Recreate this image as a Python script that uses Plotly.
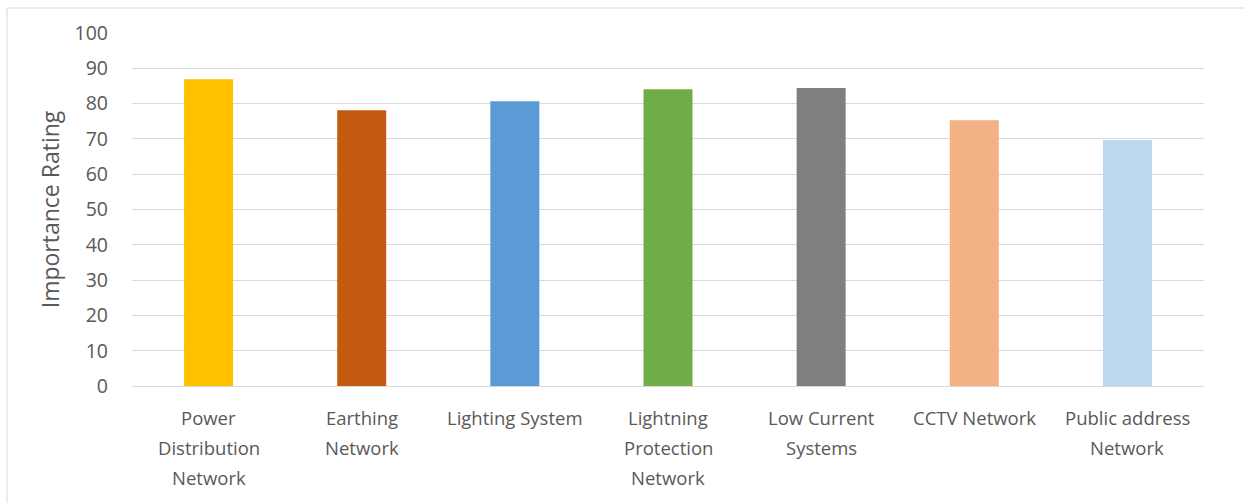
import plotly.graph_objects as go

categories = [
    "Power Distribution Network",
    "Earthing Network",
    "Lighting System",
    "Lightning Protection Network",
    "Low Current Systems",
    "CCTV Network",
    "Public address Network",
]
# wrapped lines for each axis label
label_lines = [
    ["Power", "Distribution", "Network"],
    ["Earthing", "Network"],
    ["Lighting System"],
    ["Lightning", "Protection", "Network"],
    ["Low Current", "Systems"],
    ["CCTV Network"],
    ["Public address", "Network"],
]
ratings = [86.9, 78.1, 80.7, 84.1, 84.4, 75.3, 69.7]
bar_colors = ["#FFC000", "#C55A11", "#5B9BD5", "#70AD47", "#7F7F7F", "#F4B183", "#BDD7EE"]

W, H = 1244, 503
ML, MR, MT, MB = 132, 40, 33, 117
FONT = "Open Sans"
TXT = "#595959"

fig = go.Figure(
    go.Bar(
        x=categories,
        y=ratings,
        marker=dict(color=bar_colors, line=dict(width=0)),
        width=0.32,
    )
)

# category labels, one annotation per line for Office-style spacing
for cat, lines in zip(categories, label_lines):
    for i, line in enumerate(lines):
        fig.add_annotation(
            x=cat, y=0, xref="x", yref="y",
            text=line, showarrow=False,
            yanchor="middle", yshift=-31 - 30 * i,
            font=dict(family=FONT, size=18.5, color=TXT),
        )

# light frame around the chart
pw, ph = W - ML - MR, H - MT - MB
fig.add_shape(
    type="rect", xref="paper", yref="paper",
    x0=(7 - ML) / pw, x1=(W + 10 - ML) / pw,
    y0=-(H + 10 - MT - ph) / ph, y1=1 + (MT - 8) / ph,
    line=dict(color="#D9D9D9", width=1), layer="below",
)

fig.update_layout(
    width=W, height=H,
    margin=dict(l=ML, r=MR, t=MT, b=MB),
    paper_bgcolor="white", plot_bgcolor="white",
    showlegend=False,
    bargap=0.68,
    font=dict(family=FONT, size=18, color=TXT),
    xaxis=dict(
        showticklabels=False, showgrid=False, zeroline=False,
        showline=True, linecolor="#D9D9D9", linewidth=1,
        ticks="",
    ),
    yaxis=dict(
        range=[0, 100], dtick=10, tick0=0,
        showgrid=True, gridcolor="#D9D9D9", gridwidth=1,
        zeroline=False, showline=False, ticks="",
        ticklabelstandoff=23,
        tickfont=dict(family=FONT, size=19.5, color=TXT),
        title=dict(text="Importance Rating", standoff=8,
                   font=dict(family=FONT, size=23, color=TXT)),
    ),
)

fig.write_html("out.html")
